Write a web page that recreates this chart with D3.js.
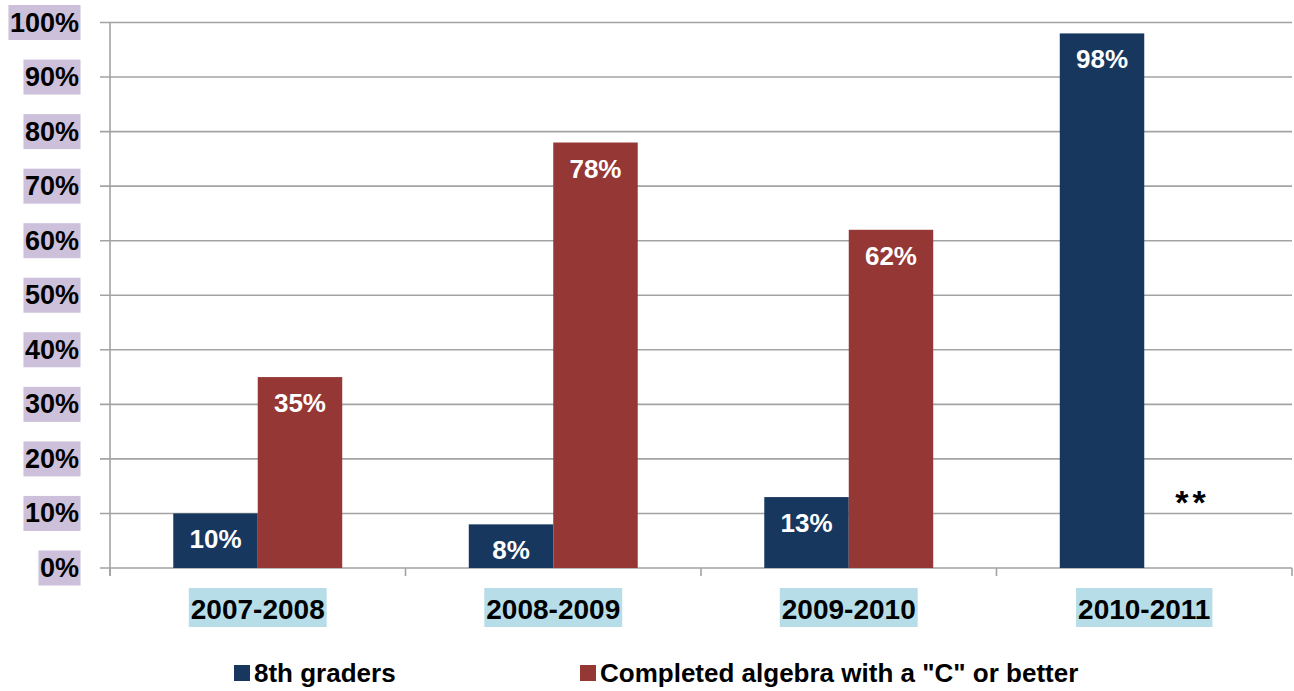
<!DOCTYPE html>
<html>
<head>
<meta charset="utf-8">
<script src="https://cdn.jsdelivr.net/npm/d3@7"></script>
<style>
  html, body { margin: 0; padding: 0; background: #fff; }
  svg { display: block; }
  text { font-family: "Liberation Sans", Arial, sans-serif; font-weight: bold; }
</style>
</head>
<body>
<svg id="chart" width="1294" height="691"></svg>
<script>
const categories = ["2007-2008", "2008-2009", "2009-2010", "2010-2011"];
const seriesNames = ["8th graders", "Completed algebra with a \"C\" or better"];
const eighthGraders = [10, 8, 13, 98];
const completedAlgebra = [35, 78, 62, null];
const barLabels8th = ["10%", "8%", "13%", "98%"];
const barLabelsAlg = ["35%", "78%", "62%", ""];
const yTicks = [0, 10, 20, 30, 40, 50, 60, 70, 80, 90, 100];
const annotationText = "**";
const annotationCategory = "2010-2011";
const annotationValue = 13;

const colors = ["#17375e", "#953735"];
const svg = d3.select("#chart");

const plotLeft = 110, plotRight = 1292, plotTop = 22.5, plotBottom = 568;

const x0 = d3.scaleBand().domain(categories).range([plotLeft, plotRight]).padding(0);
const x1 = d3.scaleBand().domain([0, 1]).range([0, x0.bandwidth()]).paddingInner(0).paddingOuter(0.749);
const y = d3.scaleLinear().domain([0, 100]).range([plotBottom, plotTop]);

// gridlines
svg.append("g").selectAll("line").data(yTicks).join("line")
  .attr("x1", plotLeft - 10).attr("x2", plotRight)
  .attr("y1", d => y(d)).attr("y2", d => y(d))
  .attr("stroke", "#a3a3a3").attr("stroke-width", 1.6);

// y axis line
svg.append("line").attr("x1", plotLeft).attr("x2", plotLeft).attr("y1", plotTop).attr("y2", plotBottom + 8)
  .attr("stroke", "#a3a3a3").attr("stroke-width", 1.6);

// x ticks at category boundaries
const bounds = categories.map(c => x0(c)).concat([plotRight]);
svg.append("g").selectAll("line").data(bounds).join("line")
  .attr("x1", d => d).attr("x2", d => d)
  .attr("y1", plotBottom).attr("y2", plotBottom + 8)
  .attr("stroke", "#a3a3a3").attr("stroke-width", 1.6);

// bars
const rows = categories.map((c, i) => ({ c, vals: [eighthGraders[i], completedAlgebra[i]], labels: [barLabels8th[i], barLabelsAlg[i]] }));
const groups = svg.append("g").selectAll("g").data(rows).join("g")
  .attr("transform", d => `translate(${x0(d.c)},0)`);

groups.selectAll("rect").data(d => d.vals.map((v, s) => ({ v, s })).filter(e => e.v != null)).join("rect")
  .attr("x", d => x1(d.s)).attr("width", x1.bandwidth())
  .attr("y", d => y(d.v)).attr("height", d => y(0) - y(d.v))
  .attr("fill", d => colors[d.s]);

groups.selectAll("text").data(d => d.vals.map((v, s) => ({ v, s, l: d.labels[s] })).filter(e => e.v != null && e.l)).join("text")
  .attr("x", d => x1(d.s) + x1.bandwidth() / 2)
  .attr("y", d => y(d.v) + 26)
  .attr("text-anchor", "middle").attr("dominant-baseline", "central")
  .attr("fill", "#fff").attr("font-size", 26)
  .text(d => d.l);

// annotation
svg.append("text")
  .attr("x", x0(annotationCategory) + x1(1) + x1.bandwidth() / 2 + 6)
  .attr("y", y(annotationValue) + 17)
  .attr("text-anchor", "middle")
  .attr("font-size", 34).attr("letter-spacing", 4).attr("fill", "#000")
  .text(annotationText);

// y labels with background
const yl = svg.append("g").selectAll("g").data(yTicks).join("g");
yl.each(function(d) {
  const g = d3.select(this);
  const t = g.append("text")
    .attr("x", 79).attr("y", y(d))
    .attr("text-anchor", "end").attr("dominant-baseline", "central")
    .attr("font-size", 27).attr("fill", "#000")
    .text(d + "%");
  const b = t.node().getBBox();
  g.insert("rect", "text")
    .attr("x", b.x - 1.5).attr("width", b.width + 3)
    .attr("y", y(d) - 17.5).attr("height", 35)
    .attr("fill", "#ccc0da");
});

// x labels with background
const xl = svg.append("g").selectAll("g").data(categories).join("g");
xl.each(function(d) {
  const g = d3.select(this);
  const t = g.append("text")
    .attr("x", x0(d) + x0.bandwidth() / 2).attr("y", 609)
    .attr("text-anchor", "middle").attr("dominant-baseline", "central")
    .attr("font-size", 28).attr("fill", "#000")
    .text(d);
  const b = t.node().getBBox();
  g.insert("rect", "text")
    .attr("x", b.x - 2).attr("width", b.width + 4)
    .attr("y", 588).attr("height", 39)
    .attr("fill", "#b7dee8");
});

// legend
const legendX = [234, 580];
const lg = svg.append("g").selectAll("g").data(seriesNames).join("g")
  .attr("transform", (d, i) => `translate(${legendX[i]},673)`);
lg.append("rect").attr("x", 0).attr("y", -8).attr("width", 16).attr("height", 16)
  .attr("fill", (d, i) => colors[i]);
lg.append("text").attr("x", 20).attr("y", 0)
  .attr("dominant-baseline", "central").attr("font-size", 26).attr("fill", "#000")
  .text(d => d);
</script>
</body>
</html>
